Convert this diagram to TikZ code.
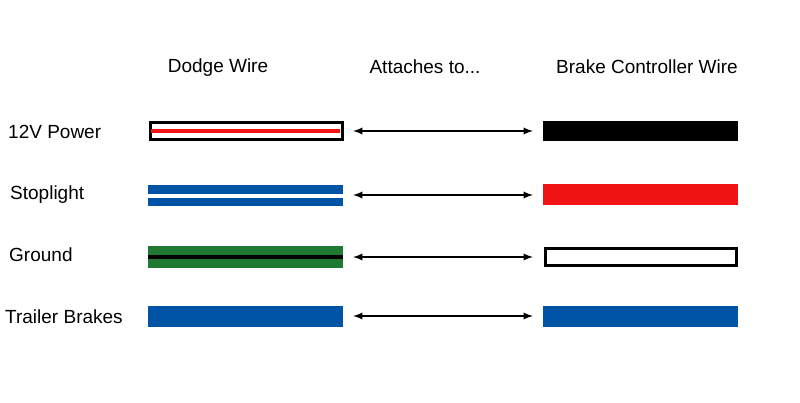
\documentclass[tikz,border=0pt]{standalone}
\usepackage{fontspec}
\setmainfont{Liberation Sans}
\definecolor{wblue}{RGB}{0,84,166}
\definecolor{wgreen}{RGB}{30,122,50}
\definecolor{wred}{RGB}{240,20,20}
\begin{document}
\begin{tikzpicture}[x=1pt,y=-1pt,
  lbl/.style={font=\fontsize{19}{22}\selectfont, inner sep=0pt},
  arr/.style={<->, >=latex, line width=2.2pt, shorten <=0pt}]
\useasboundingbox (0,0) rectangle (800,403);
% headers
\node[lbl] (h1) at (218,68) {Dodge Wire};
\node[lbl] (h2) at (425,67) {Attaches to...};
\node[lbl] (h3) at (647,67) {Brake Controller Wire};
% row labels
\node[lbl,anchor=west] (r1) at (8,132) {12V Power};
\node[lbl,anchor=west] (r2) at (10,195) {Stoplight};
\node[lbl,anchor=west] (r3) at (9,255) {Ground};
\node[lbl,anchor=west] (r4) at (5,317) {Trailer Brakes};
% left wires
\draw[line width=3pt] (150,123) rectangle (342,140);
\fill[wred] (151,129.5) rectangle (340,133.5);
\node[inner sep=0pt, minimum width=0pt] (l1) at (343,131) {};
\fill[wblue] (148,185) rectangle (343,206);
\fill[white] (148,194) rectangle (343,198);
\node[inner sep=0pt] (l2) at (343,195) {};
\fill[wgreen] (148,246) rectangle (343,268);
\fill[black] (148,255) rectangle (343,259);
\node[inner sep=0pt] (l3) at (343,257) {};
\fill[wblue] (148,306) rectangle (343,327);
\node[inner sep=0pt] (l4) at (343,316) {};
% right wires
\fill[black] (543,121) rectangle (738,141);
\node[inner sep=0pt] (c1) at (543,131) {};
\fill[wred] (543,184) rectangle (738,205);
\node[inner sep=0pt] (c2) at (543,195) {};
\draw[line width=3pt] (545,248.5) rectangle (736,266);
\node[inner sep=0pt] (c3) at (543,257) {};
\fill[wblue] (543,306) rectangle (738,327);
\node[inner sep=0pt] (c4) at (543,316) {};
% arrows
\foreach \i in {1,2,3,4}{
  \draw[arr] ([xshift=10pt]l\i.center) -- ([xshift=-10pt]c\i.center);
}
\end{tikzpicture}
\end{document}
